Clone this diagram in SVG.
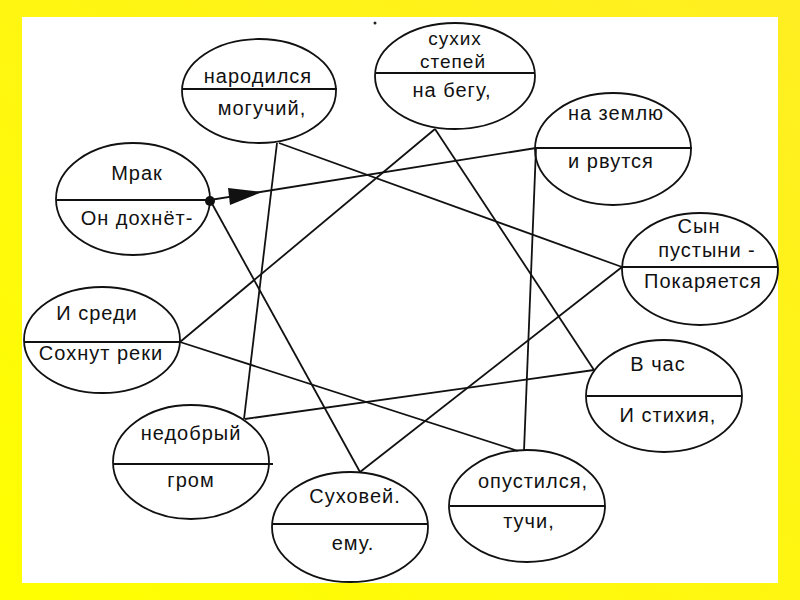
<svg xmlns="http://www.w3.org/2000/svg" width="800" height="600" viewBox="0 0 800 600">
<defs>
<linearGradient id="bg" x1="0" y1="1" x2="1" y2="0">
<stop offset="0" stop-color="#FFFF00"/>
<stop offset="1" stop-color="#FFEE22"/>
</linearGradient>
<style>
.e{fill:none;stroke:#111;stroke-width:1.8}
.d{stroke:#111;stroke-width:1.8}
.t{font-family:"Liberation Sans",Arial,sans-serif;font-size:20px;letter-spacing:1px;fill:#111;text-anchor:middle}
.s{font-size:19px}
.c line,.c path{stroke:#111;stroke-width:1.8;fill:none}
</style>
</defs>
<rect x="0" y="0" width="800" height="600" fill="url(#bg)"/>
<rect x="22" y="17" width="756" height="566" fill="#fff"/>
<circle cx="375" cy="23" r="1.5" fill="#222"/>

<g id="connectors" class="c">
<line x1="210" y1="200" x2="536" y2="148"/>
<line x1="210" y1="200" x2="360" y2="472"/>
<line x1="277" y1="143" x2="244" y2="419"/>
<line x1="279" y1="143" x2="622" y2="267"/>
<line x1="435" y1="129" x2="594" y2="370"/>
<line x1="435" y1="129" x2="180" y2="342"/>
<line x1="536" y1="148" x2="524" y2="451"/>
<line x1="622" y1="267" x2="360" y2="472"/>
<line x1="180" y1="342" x2="518" y2="451"/>
<line x1="245" y1="419" x2="594" y2="370"/>
<circle cx="210" cy="201" r="5" fill="#111"/>
<polygon points="228,188 262,192 230,205" fill="#111"/>
</g>

<g id="n1">
<ellipse class="e" cx="259" cy="91" rx="77" ry="52"/>
<line class="d" x1="182" y1="89" x2="337" y2="89"/>
<text class="t" x="258" y="83">народился</text>
<text class="t" x="262" y="115">могучий,</text>
</g>
<g id="n2">
<ellipse class="e" cx="455" cy="76" rx="80" ry="53"/>
<line class="d" x1="375" y1="73" x2="535" y2="73"/>
<text class="t s" x="455" y="45">сухих</text>
<text class="t s" x="453" y="68">степей</text>
<text class="t" x="452" y="97">на бегу,</text>
</g>
<g id="n3">
<ellipse class="e" cx="613" cy="149" rx="78" ry="56"/>
<line class="d" x1="535" y1="148" x2="692" y2="148"/>
<text class="t" x="616" y="120">на землю</text>
<text class="t" x="611" y="168">и рвутся</text>
</g>
<g id="n4">
<ellipse class="e" cx="700" cy="269" rx="78" ry="56"/>
<line class="d" x1="622" y1="267" x2="777" y2="267"/>
<text class="t" x="699" y="233">Сын</text>
<text class="t" x="707" y="257">пустыни -</text>
<text class="t" x="703" y="288">Покаряется</text>
</g>
<g id="n5">
<ellipse class="e" cx="664" cy="396" rx="78" ry="56"/>
<line class="d" x1="587" y1="396" x2="742" y2="396"/>
<text class="t" x="658" y="371">В час</text>
<text class="t" x="668" y="422">И стихия,</text>
</g>
<g id="n6">
<ellipse class="e" cx="527" cy="506" rx="78" ry="56"/>
<line class="d" x1="450" y1="506" x2="605" y2="506"/>
<text class="t" x="533" y="488">опустился,</text>
<text class="t" x="529" y="528">тучи,</text>
</g>
<g id="n7">
<ellipse class="e" cx="350" cy="527" rx="78" ry="55"/>
<line class="d" x1="273" y1="524" x2="428" y2="524"/>
<text class="t" x="355" y="503">Суховей.</text>
<text class="t" x="353" y="550">ему.</text>
</g>
<g id="n8">
<ellipse class="e" cx="191" cy="462" rx="78" ry="57"/>
<line class="d" x1="113" y1="464" x2="273" y2="464"/>
<text class="t" x="191" y="440">недобрый</text>
<text class="t" x="191" y="487">гром</text>
</g>
<g id="n9">
<ellipse class="e" cx="102" cy="340" rx="78" ry="53"/>
<line class="d" x1="24" y1="342" x2="180" y2="342"/>
<text class="t" x="97" y="320">И среди</text>
<text class="t" x="101" y="360">Сохнут реки</text>
</g>
<g id="n10">
<ellipse class="e" cx="133" cy="199" rx="77" ry="56"/>
<line class="d" x1="57" y1="200" x2="210" y2="200"/>
<text class="t" x="137" y="180">Мрак</text>
<text class="t" x="137" y="225">Он дохнёт-</text>
</g>
</svg>
